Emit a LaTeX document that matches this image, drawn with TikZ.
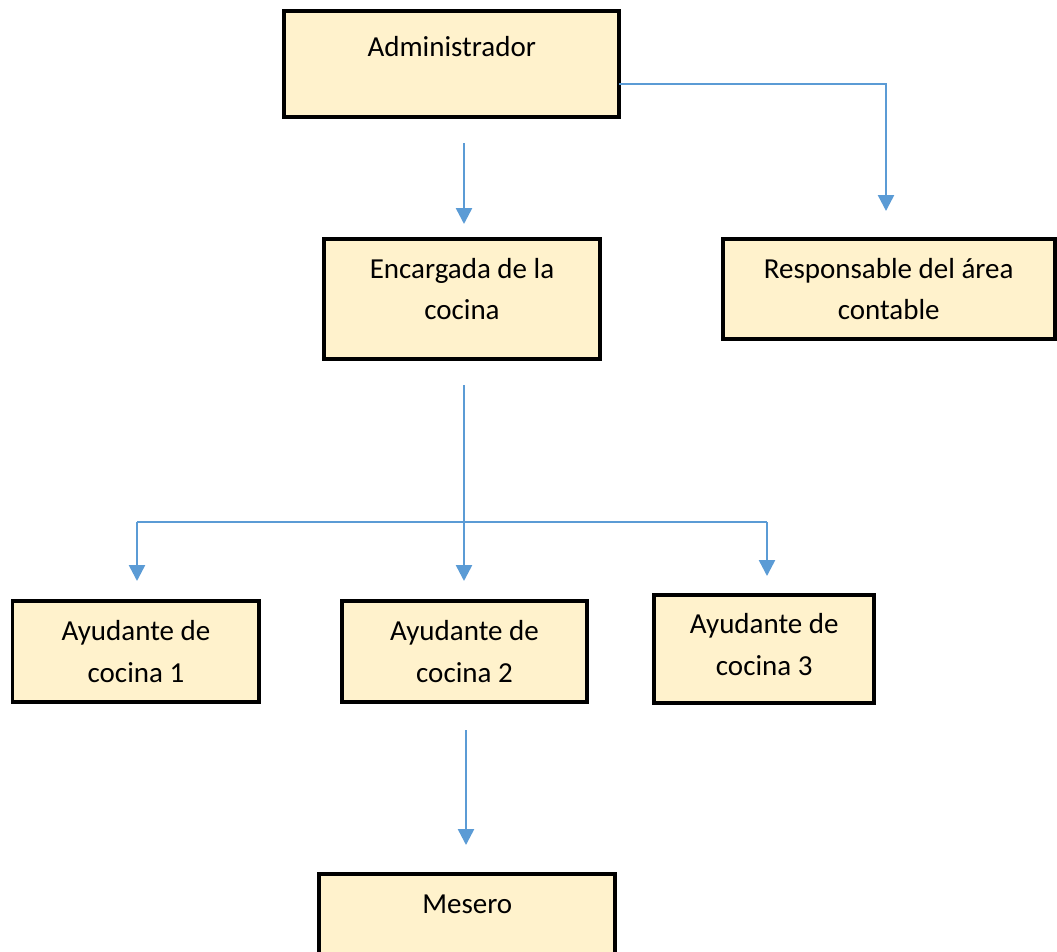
\documentclass[tikz,border=0pt]{standalone}
\usepackage{fontspec}
\setmainfont{Carlito}
\usepackage{tikz}
\usepackage{xcolor}
\usetikzlibrary{positioning, arrows.meta, calc}

\definecolor{cajafondo}{RGB}{255,242,204}
\definecolor{flechaazul}{RGB}{91,155,213}

\begin{document}
\begin{tikzpicture}[
  x=0.02cm, y=-0.02cm,
  >={Triangle[width=0.32cm, length=0.32cm]},
  every node/.style={font=\fontsize{16.5}{23.9}\selectfont},
  caja/.style={draw=black, line width=0.08cm, fill=cajafondo, align=center,
    inner sep=0pt, outer sep=0pt, anchor=north west},
  flecha/.style={->, line width=0.05cm, flechaazul},
  linea/.style={line width=0.05cm, flechaazul}
]
\useasboundingbox (0,0) rectangle (1057,951);

% Level 1
\node[caja, minimum width=6.71cm, text height=0.93cm, text depth=1.2cm] (admin) at (284,10.5) {Administrador};

% Level 2
\node[caja, minimum width=5.52cm, text height=1.63cm, text depth=0.78cm] (encargada) at (324,238.5) {Encargada de la\\cocina};
\node[caja, minimum width=6.65cm, text height=1.63cm, text depth=0.39cm] (responsable) at (722.5,238.5) {Responsable del área\\contable};

% Level 3
\node[caja, minimum width=4.94cm, text height=1.63cm, text depth=0.41cm] (ayudante1) at (12.5,600.5) {Ayudante de\\cocina 1};
\node[caja, minimum width=4.92cm, text height=1.63cm, text depth=0.41cm] (ayudante2) at (341.5,600.5) {Ayudante de\\cocina 2};
\node[caja, minimum width=4.41cm, text height=1.61cm, text depth=0.55cm] (ayudante3) at (654,595) {Ayudante de\\cocina 3};

% Level 4
\node[caja, minimum width=5.93cm, text height=0.78cm, text depth=1.36cm] (mesero) at (319,874) {Mesero};

% Connectors
\coordinate (adminBajo) at (464,143);
\coordinate (encArriba) at (464,224);
\draw[flecha] (adminBajo) -- (encArriba);

\coordinate (respArriba) at (886,211);
\draw[flecha] ($(admin.east)+(0,20.3)$) -| (respArriba);

\coordinate (encBajo) at (464,385);
\coordinate (ay2Arriba) at (464,581);
\coordinate (ramaIzq) at (137,522);
\coordinate (ramaDer) at (767,522);
\coordinate (ay1Arriba) at (137,581);
\coordinate (ay3Arriba) at (767,576);
\draw[flecha] (encBajo) -- (ay2Arriba);
\draw[linea] (ramaIzq) -- (ramaDer);
\draw[flecha] (ramaIzq) -- (ay1Arriba);
\draw[flecha] (ramaDer) -- (ay3Arriba);

\coordinate (ay2Bajo) at (466,730);
\coordinate (mesArriba) at (466,845);
\draw[flecha] (ay2Bajo) -- (mesArriba);

\end{tikzpicture}
\end{document}
